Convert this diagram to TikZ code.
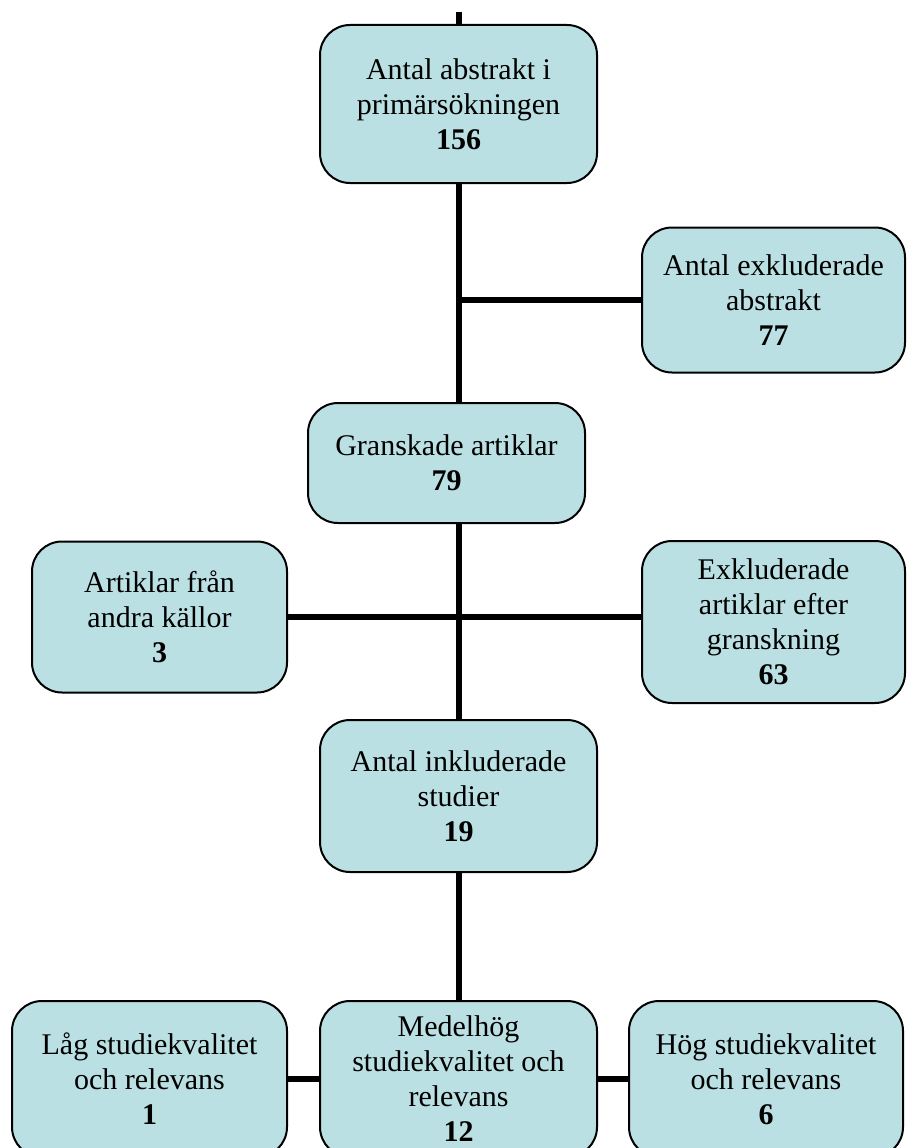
\documentclass[tikz,border=0pt]{standalone}
\usepackage{fontspec}
\setmainfont{Liberation Serif}

\begin{document}
\begin{tikzpicture}[x=1pt,y=-1pt,
    box/.style={draw=outlineColor, fill=boxColor, line width=2pt, rounded corners=30pt,
      align=center, inner sep=0pt, font=\fontsize{30pt}{35pt}\selectfont},
    link/.style={draw=outlineColor, line width=6pt}]
% Colors
\definecolor{outlineColor}{RGB}{0,0,0}
\definecolor{boxColor}{RGB}{187,224,227}
\useasboundingbox (0,0) rectangle (907,1148);
% Boxes
\node[box, minimum width=277pt, minimum height=158pt] (prim)  at (458.5, 104) {Antal abstrakt i\\primärsökningen\\\textbf{156}};
\node[box, minimum width=263pt, minimum height=145pt] (exabs) at (773.5, 300) {Antal exkluderade\\abstrakt\\\textbf{77}};
\node[box, minimum width=277pt, minimum height=120pt] (gran)  at (446.5, 463) {Granskade artiklar\\\textbf{79}};
\node[box, minimum width=255pt, minimum height=151pt] (other) at (159.5, 617) {Artiklar från\\andra källor\\\textbf{3}};
\node[box, minimum width=263pt, minimum height=162pt] (exart) at (773.5, 622) {Exkluderade\\artiklar efter\\granskning\\\textbf{63}};
\node[box, minimum width=277pt, minimum height=152pt] (incl)  at (458.5, 796) {Antal inkluderade\\studier\\\textbf{19}};
\node[box, minimum width=275pt, minimum height=156pt] (low)   at (149.5,1079) {Låg studiekvalitet\\och relevans\\\textbf{1}};
\node[box, minimum width=277pt, minimum height=156pt] (mid)   at (458.5,1079) {Medelhög\\studiekvalitet och\\relevans\\\textbf{12}};
\node[box, minimum width=274pt, minimum height=156pt] (high)  at (766.0,1079) {Hög studiekvalitet\\och relevans\\\textbf{6}};
% Connectors
\coordinate (start) at (458.5,12);
\begin{scope}[link]
	\draw (start) -- (prim.north);
	\draw (prim.south) -- (prim.south |- gran.north);
	\draw (prim.south |- exabs.west) -- (exabs.west);
	\draw (incl.north |- gran.south) -- (incl.north);
	\draw (other.east) -- (other.east -| exart.west);
	\draw (incl.south) -- (mid.north);
	\draw (low.east) -- (mid.west);
	\draw (mid.east) -- (high.west);
\end{scope}
\end{tikzpicture}
\end{document}
